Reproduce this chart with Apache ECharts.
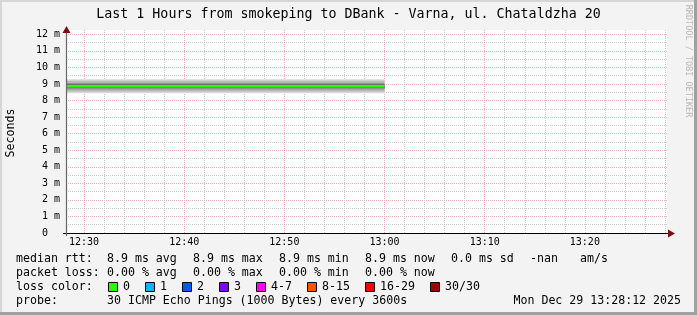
<!DOCTYPE html>
<html><head><meta charset="utf-8">
<script src="https://cdn.jsdelivr.net/npm/echarts@6/dist/echarts.min.js"></script>
<style>html,body{margin:0;padding:0;background:#f3f3f3;}#c{width:697px;height:315px;}</style>
</head><body><div id="c"></div>
<script>
// ---------- data ----------
const titleText = 'Last 1 Hours from smokeping to DBank - Varna, ul. Chataldzha 20';
const timeStart = 748.2;   // 12:28:12, minutes since midnight
const timeEnd = 808.2;     // 13:28:12
const majorTimeTicks = [750, 760, 770, 780, 790, 800];
const minorTimeTicks = [752, 754, 756, 758, 762, 764, 766, 768, 772, 774, 776, 778,
                        782, 784, 786, 788, 792, 794, 796, 798, 802, 804, 806, 808];
const yMax = 12.26;
const majorYTicks = [0, 1, 2, 3, 4, 5, 6, 7, 8, 9, 10, 11, 12];
const minorYTicks = [0.5, 1.5, 2.5, 3.5, 4.5, 5.5, 6.5, 7.5, 8.5, 9.5, 10.5, 11.5];
const sampleTimes = [748.2, 780];          // data present until 13:00
const medianRtt = [8.87, 8.87];            // ms
const smokeLow = [8.44, 8.54, 8.66, 8.76]; // ms, outer -> inner
const smokeHigh = [9.29, 9.19, 9.06, 8.98];
const rowLabels = ['median rtt:', 'packet loss:', 'loss color:', 'probe:'];
const rttStats = ['8.9 ms avg', '8.9 ms max', '8.9 ms min', '8.9 ms now', '0.0 ms sd', '-nan', 'am/s'];
const lossStats = ['0.00 % avg', '0.00 % max', '0.00 % min', '0.00 % now'];
const lossLevels = ['0', '1', '2', '3', '4-7', '8-15', '16-29', '30/30'];
const probeText = '30 ICMP Echo Pings (1000 Bytes) every 3600s';
const stampText = 'Mon Dec 29 13:28:12 2025';
const yAxisTitle = 'Seconds';
const watermark = 'RRDTOOL / TOBI OETIKER';

// ---------- style ----------
const MONO = '"DejaVu Sans Mono", monospace';
const smokeColors = ['#d8d8d8', '#b8b8b8', '#929292', '#666666'];
const lossColors = ['#26ff00', '#00b8ff', '#0059ff', '#7e00ff', '#ff00ff', '#ff5500', '#ff0000', '#a10000'];
const rttX = [107, 193, 279, 365, 451, 530, 580];
const lossBoxX = [108, 145, 182, 219, 256, 307, 365, 430];
const rowY = [259, 273, 287, 301];
const LEG = 11.6;

function fmtTime(v) {
  const h = Math.floor(v / 60), m = Math.round(v - h * 60);
  return (h < 10 ? '0' : '') + h + ':' + (m < 10 ? '0' : '') + m;
}

// smoke bands: [tStart, tEnd, low, high, level]
const smokeData = smokeLow.map((lo, i) => [sampleTimes[0], sampleTimes[sampleTimes.length - 1], lo, smokeHigh[i], i]);

const series = [
  {type: 'custom', data: smokeData, silent: true, z: 3,
    encode: {x: [0, 1], y: [2, 3]},
    renderItem: function (params, api) {
      const p1 = api.coord([api.value(0), api.value(3)]);
      const p2 = api.coord([api.value(1), api.value(2)]);
      return {type: 'rect', shape: {x: p1[0], y: p1[1], width: p2[0] - p1[0], height: p2[1] - p1[1]},
        style: {fill: smokeColors[api.value(4)]}};
    }},
  {type: 'line', data: sampleTimes.map((t, i) => [t, medianRtt[i]]), symbol: 'none',
    lineStyle: {color: lossColors[0], width: 2.5}, z: 10}
];

const graphics = [];
// frame
graphics.push({type: 'rect', shape: {x: 0, y: 0, width: 697, height: 2}, style: {fill: '#d6d6d6'}, silent: true});
graphics.push({type: 'rect', shape: {x: 0, y: 0, width: 2, height: 315}, style: {fill: '#d6d6d6'}, silent: true});
graphics.push({type: 'rect', shape: {x: 694, y: 0, width: 3, height: 315}, style: {fill: '#a0a0a0'}, silent: true});
graphics.push({type: 'rect', shape: {x: 0, y: 312, width: 697, height: 3}, style: {fill: '#a0a0a0'}, silent: true});
// axis extensions + arrows
graphics.push({type: 'line', shape: {x1: 63, y1: 233.5, x2: 669, y2: 233.5}, style: {stroke: '#000', lineWidth: 1}, z: 20});
graphics.push({type: 'line', shape: {x1: 66.5, y1: 236, x2: 66.5, y2: 30}, style: {stroke: '#666', lineWidth: 1.2}, z: 20});
graphics.push({type: 'polygon', shape: {points: [[62.5, 33], [70.5, 33], [66.5, 26]]}, style: {fill: '#7a1010'}, z: 21});
graphics.push({type: 'polygon', shape: {points: [[668, 229.5], [668, 237.5], [675, 233.5]]}, style: {fill: '#7a1010'}, z: 21});
// side texts
graphics.push({type: 'text', x: 11, y: 133, rotation: Math.PI / 2,
  style: {text: yAxisTitle, font: LEG + 'px ' + MONO, fill: '#000', align: 'center', verticalAlign: 'middle'}});
graphics.push({type: 'text', x: 688, y: 61, rotation: -Math.PI / 2,
  style: {text: watermark, font: '8.5px ' + MONO, fill: '#b8b8b8', align: 'center', verticalAlign: 'middle'}});
// legend rows
rowLabels.forEach((t, i) => graphics.push({type: 'text', x: 16, y: rowY[i],
  style: {text: t, font: LEG + 'px ' + MONO, fill: '#000', verticalAlign: 'middle'}}));
rttStats.forEach((t, i) => graphics.push({type: 'text', x: rttX[i], y: rowY[0],
  style: {text: t, font: LEG + 'px ' + MONO, fill: '#000', verticalAlign: 'middle'}}));
lossStats.forEach((t, i) => graphics.push({type: 'text', x: rttX[i], y: rowY[1],
  style: {text: t, font: LEG + 'px ' + MONO, fill: '#000', verticalAlign: 'middle'}}));
lossLevels.forEach((t, i) => {
  graphics.push({type: 'rect', shape: {x: lossBoxX[i] + 0.5, y: rowY[2] - 4.5, width: 9, height: 9},
    style: {fill: lossColors[i], stroke: '#000', lineWidth: 1}});
  graphics.push({type: 'text', x: lossBoxX[i] + 15, y: rowY[2],
    style: {text: t, font: LEG + 'px ' + MONO, fill: '#000', verticalAlign: 'middle'}});
});
graphics.push({type: 'text', x: 107, y: rowY[3], style: {text: probeText, font: LEG + 'px ' + MONO, fill: '#000', verticalAlign: 'middle'}});
graphics.push({type: 'text', x: 681, y: rowY[3], style: {text: stampText, font: LEG + 'px ' + MONO, fill: '#000', align: 'right', verticalAlign: 'middle'}});

const gridRed = {color: '#f0b0b0', type: [1, 1], width: 1};
const gridGrey = {color: '#cccccc', type: [1, 1], width: 1};

const option = {
  animation: false,
  backgroundColor: '#f3f3f3',
  title: {text: titleText, left: 'center', top: 3,
    textStyle: {fontFamily: MONO, fontSize: 13.3, fontWeight: 'normal', color: '#000'}},
  grid: {left: 66, right: 30, top: 30, bottom: 82, show: true, backgroundColor: '#ffffff', borderWidth: 0},
  xAxis: [
    {type: 'value', min: timeStart, max: timeEnd, minInterval: 2, maxInterval: 2, position: 'bottom',
      axisLine: {show: false, onZero: false}, axisTick: {show: false, customValues: minorTimeTicks},
      axisLabel: {show: false}, splitLine: {show: true, lineStyle: gridGrey}},
    {type: 'value', min: timeStart, max: timeEnd, minInterval: 10, maxInterval: 10, position: 'bottom',
      axisLine: {show: false, onZero: false}, axisTick: {show: false, customValues: majorTimeTicks},
      axisLabel: {show: true, customValues: majorTimeTicks, margin: 4, fontFamily: MONO, fontSize: 10, color: '#000',
        formatter: v => (Math.abs(v % 10) < 1e-6 ? fmtTime(v) : '')},
      splitLine: {show: true, lineStyle: gridRed}}
  ],
  yAxis: [
    {type: 'value', min: 0, max: yMax, minInterval: 0.5, maxInterval: 0.5,
      axisLine: {show: false, onZero: false}, axisTick: {show: false, customValues: minorYTicks},
      axisLabel: {show: false}, splitLine: {show: true, lineStyle: gridGrey}},
    {type: 'value', min: 0, max: yMax, minInterval: 1, maxInterval: 1, position: 'left',
      axisLine: {show: false, onZero: false}, axisTick: {show: false, customValues: majorYTicks},
      axisLabel: {show: true, customValues: majorYTicks, margin: 6, fontFamily: MONO, fontSize: 10, color: '#000',
        formatter: v => (Math.abs(v % 1) < 1e-6 && v <= 12 ? (v === 0 ? '0  ' : v + ' m') : '')},
      splitLine: {show: true, lineStyle: gridRed}}
  ],
  series: series,
  graphic: graphics
};

const chart = echarts.init(document.getElementById('c'), null, {renderer: 'canvas'});
chart.setOption(option);
</script>
</body></html>
